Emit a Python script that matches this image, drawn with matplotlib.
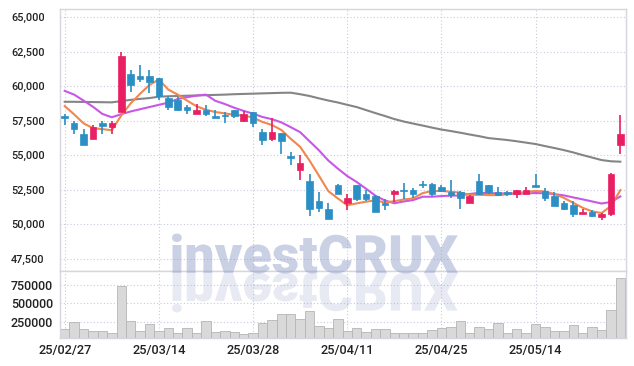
import matplotlib
matplotlib.use('Agg')
import matplotlib.pyplot as plt
import matplotlib.transforms as mtransforms
from matplotlib.ticker import FuncFormatter, FixedLocator
from matplotlib.textpath import TextPath
from matplotlib.patches import PathPatch
from matplotlib.font_manager import FontProperties
import numpy as np
import pandas as pd

plt.rcParams['font.family'] = ['Roboto', 'DejaVu Sans']
plt.rcParams['font.weight'] = 'medium'

# daily candles, 60 trading days (25/02/27 .. 25/05/27)
open_ = [57800, 57300, 56500, 56200, 57300, 57000, 58100, 60900, 60700, 60700,
         60600, 59100, 59000, 58500, 58000, 58300, 57800, 57900, 58300, 57500,
         58100, 56700, 56200, 56600, 54900, 53900, 53100, 51700, 51100, 52800,
         51500, 52800, 52200, 52000, 51500, 52200, 52500, 52500, 52900, 52900,
         52700, 52300, 52300, 51500, 53100, 52800, 52300, 52300, 52200, 52200,
         52800, 52400, 52000, 51500, 51400, 50700, 50900, 50500, 50700, 55700]
high = [58000, 57500, 56900, 57200, 57500, 57500, 62500, 61200, 61500, 61200,
        60600, 59300, 59200, 58600, 58700, 58600, 58300, 58100, 58300, 58200,
        58100, 56900, 57700, 56600, 55200, 55000, 53600, 52300, 51500, 52900,
        52200, 52800, 52500, 52100, 51800, 52500, 53000, 52600, 53100, 53000,
        52800, 53200, 52400, 52100, 53600, 52800, 52700, 52400, 52500, 52700,
        53600, 52600, 52300, 51700, 51700, 51100, 51000, 50800, 53700, 57900]
low = [57200, 56500, 55700, 56200, 56500, 56500, 58100, 59600, 60300, 59500,
       59000, 58300, 58200, 58000, 58000, 57800, 57700, 57300, 57700, 57400,
       57000, 55700, 56000, 55100, 54300, 53200, 50600, 50900, 50400, 52200,
       51000, 51700, 51700, 50900, 51000, 51600, 51800, 51900, 52600, 52000,
       52300, 51900, 51100, 51500, 52100, 52200, 52000, 52000, 51900, 52200,
       52700, 51700, 51300, 51000, 50500, 50700, 50500, 50300, 50600, 55100]
close = [57700, 56900, 55700, 57000, 57100, 57300, 62200, 60100, 60500, 60300,
         59300, 58500, 58300, 58300, 58300, 58000, 57700, 57800, 57800, 58000,
         57300, 56100, 56700, 56000, 54800, 54400, 51100, 51200, 50400, 52200,
         51900, 51800, 51800, 50900, 51400, 52400, 52400, 52200, 52800, 52200,
         52400, 52100, 51900, 52000, 52200, 52300, 52100, 52200, 52500, 52500,
         52700, 51900, 51300, 51100, 50700, 50900, 50600, 50700, 53600, 56500]
volume = [146000, 246000, 146000, 119000, 119000, 92000, 736000, 264000, 128000, 214000,
          119000, 160000, 92000, 160000, 92000, 255000, 105000, 123000, 110000, 78000,
          96000, 237000, 269000, 350000, 350000, 282000, 396000, 191000, 168000, 282000,
          123000, 160000, 110000, 146000, 146000, 92000, 92000, 92000, 92000, 132000,
          160000, 173000, 255000, 92000, 173000, 146000, 228000, 92000, 146000, 92000,
          214000, 173000, 119000, 119000, 200000, 92000, 182000, 132000, 405000, 841000]

ma5_head = [58550, 57950, 57300, 56950]
ma10_head = [59650, 59380, 58950, 58500, 57980, 57740, 57960, 58160, 58320]
ma60 = [58860, 58860, 58850, 58840, 58830, 58820, 58910, 59000, 59070, 59130,
        59230, 59260, 59280, 59300, 59320, 59340, 59360, 59380, 59410, 59430,
        59450, 59470, 59490, 59510, 59520, 59410, 59280, 59110, 58950, 58810,
        58640, 58480, 58260, 58040, 57830, 57610, 57430, 57280, 57140, 56990,
        56850, 56740, 56620, 56490, 56370, 56230, 56160, 56090, 56000, 55900,
        55800, 55650, 55510, 55360, 55190, 55000, 54820, 54640, 54550, 54520]

tick_pos = [0, 10, 20, 30, 40, 50]
tick_labels = ['25/02/27', '25/03/14', '25/03/28', '25/04/11', '25/04/25', '25/05/14']
price_ticks = [47500, 50000, 52500, 55000, 57500, 60000, 62500, 65000]
vol_ticks = [250000, 500000, 750000]

UP = '#e91e63'
DOWN = '#2b8ec4'
GRID = '#c9c9dc'
FRAME = '#d6d6de'
LABEL = '#222222'

df = pd.DataFrame({'open': open_, 'high': high, 'low': low, 'close': close, 'volume': volume})
ma5 = df['close'].rolling(5).mean()
ma5.iloc[:4] = ma5_head
ma10 = df['close'].rolling(10).mean()
ma10.iloc[:9] = ma10_head
x = np.arange(len(df))

W, H = 634, 366
fig = plt.figure(figsize=(W / 100, H / 100), dpi=100)
ax = fig.add_axes([60 / W, 1 - 271 / H, 566 / W, 262.5 / H])
axv = fig.add_axes([60 / W, 1 - 338 / H, 566 / W, 67 / H], sharex=ax)

# moving average lines under the candles
ax.plot(x, ma60, color='#858585', lw=1.5, zorder=2)
ax.plot(x, ma10, color='#c957e6', lw=1.5, zorder=2)
ax.plot(x, ma5, color='#ef874f', lw=1.5, zorder=2)

up = df['close'] >= df['open']
colors = np.where(up, UP, DOWN)
ax.vlines(x, df['low'], df['high'], colors=colors, lw=1.2, zorder=3)
body_lo = np.minimum(df['open'], df['close'])
body_h = np.maximum((df['close'] - df['open']).abs(), 60)
ax.bar(x, body_h, bottom=body_lo, width=0.7, color=colors, edgecolor=colors,
       linewidth=0.5, zorder=4)

ax.set_xlim(-0.5, 59.6)
ax.set_ylim(46600, 65620)
ax.yaxis.set_major_locator(FixedLocator(price_ticks))
ax.yaxis.set_major_formatter(FuncFormatter(lambda v, p: f'{v:,.0f}'))
ax.tick_params(axis='y', length=0, pad=11, labelsize=7.8, labelcolor=LABEL)
ax.tick_params(axis='x', length=0, labelbottom=False)

# volume
axv.bar(x, df['volume'], width=1.0, color='#d9d9d9', edgecolor='#b5b5b5', linewidth=0.6, zorder=2)
axv.set_ylim(28000, 940000)
axv.yaxis.set_major_locator(FixedLocator(vol_ticks))
axv.yaxis.set_major_formatter(FuncFormatter(lambda v, p: f'{v:.0f}'))
axv.tick_params(axis='y', length=0, pad=5, labelsize=9, labelcolor=LABEL)
axv.set_xticks(tick_pos)
axv.set_xticklabels(tick_labels)
axv.tick_params(axis='x', length=0, pad=4, labelsize=9.2, labelcolor=LABEL)

for a in (ax, axv):
    a.grid(True, color=GRID, linestyle=(0, (1, 2)), linewidth=0.8)
    a.set_axisbelow(True)
    for s in a.spines.values():
        s.set_color(FRAME)
        s.set_linewidth(1.0)

# watermark and its reflection
tp = TextPath((0, 0), 'investCRUX', size=10, prop=FontProperties(family='Roboto', weight='black'))
ext = tp.get_extents()
sx = 286 / ext.width
sy = 40 / ext.height
x0 = 172 - ext.x0 * sx
base = H - 273
fig.add_artist(PathPatch(tp, transform=mtransforms.Affine2D().scale(sx, sy).translate(x0, base),
                         facecolor=(0.55, 0.6, 0.78), alpha=0.45, lw=0, zorder=5))
fig.add_artist(PathPatch(tp, transform=mtransforms.Affine2D().scale(sx, -sy).translate(x0, base),
                         facecolor=(0.55, 0.6, 0.78), alpha=0.2, lw=0, zorder=5))

fig.savefig('out.png', dpi=100)
